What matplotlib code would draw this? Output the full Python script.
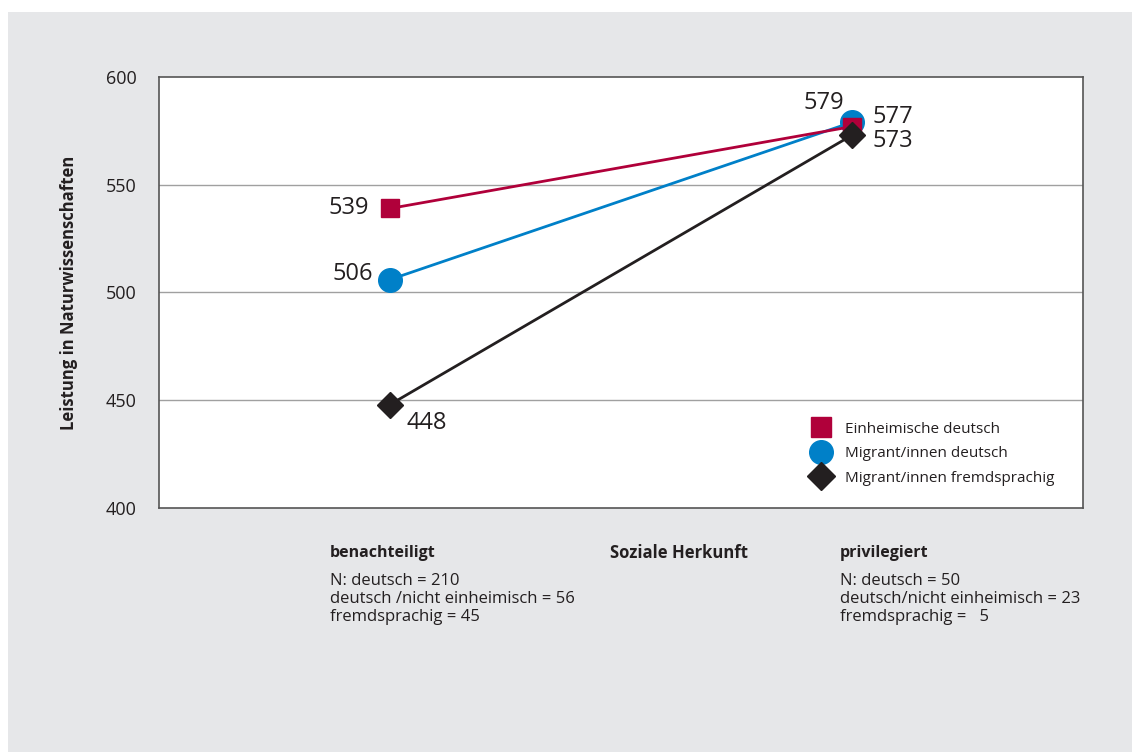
import matplotlib
matplotlib.use("Agg")
import matplotlib.pyplot as plt
from matplotlib.patches import Rectangle
from matplotlib.lines import Line2D

plt.rcParams['font.family'] = ['Open Sans', 'DejaVu Sans']

groups = ["benachteiligt", "privilegiert"]
series_names = ["Einheimische deutsch", "Migrant/innen deutsch", "Migrant/innen fremdsprachig"]
einheimisch = [539, 577]
migrant_deutsch = [506, 579]
migrant_fremd = [448, 573]
yticks = [400, 450, 500, 550, 600]
n_left = ["N: deutsch = 210", "deutsch /nicht einheimisch = 56", "fremdsprachig = 45"]
n_right = ["N: deutsch = 50", "deutsch/nicht einheimisch = 23", "fremdsprachig =   5"]

RED = "#b0003a"
BLUE = "#0080c8"
BLACK = "#231f20"
TXT = "#231f20"
BG = "#e6e7e9"

W, H = 1132, 752
fig = plt.figure(figsize=(W / 100, H / 100), dpi=100)
fig.patch.set_facecolor("white")
fig.add_artist(Rectangle((8 / W, 0), 1 - 8 / W, 1 - 12 / H, transform=fig.transFigure,
                         facecolor=BG, edgecolor="none", zorder=0))

ax = fig.add_axes([159 / W, 1 - 508 / H, (1083 - 159) / W, (508 - 77) / H])
ax.set_facecolor("white")
ax.set_xlim(0, 4)
ax.set_ylim(400, 600)
xs = [1, 3]

for y in [450, 500, 550]:
    ax.axhline(y, color="#a0a0a0", lw=1.0, zorder=1)

ax.plot(xs, einheimisch, color=RED, lw=2.0, marker="s", ms=13, zorder=3)
ax.plot(xs, migrant_deutsch, color=BLUE, lw=2.0, marker="o", ms=17, zorder=2)
ax.plot(xs, migrant_fremd, color=BLACK, lw=2.0, marker="D", ms=13, zorder=4)

lab = dict(fontsize=17, color=TXT)
ax.annotate(str(einheimisch[0]), (xs[0], einheimisch[0]), xytext=(-15, 0), textcoords="offset points", ha="right", va="center", **lab)
ax.annotate(str(migrant_deutsch[0]), (xs[0], migrant_deutsch[0]), xytext=(-12, 4), textcoords="offset points", ha="right", va="center", **lab)
ax.annotate(str(migrant_fremd[0]), (xs[0], migrant_fremd[0]), xytext=(12, -13), textcoords="offset points", ha="left", va="center", **lab)
ax.annotate(str(migrant_deutsch[1]), (xs[1], migrant_deutsch[1]), xytext=(-6, 14), textcoords="offset points", ha="right", va="center", **lab)
ax.annotate(str(einheimisch[1]), (xs[1], einheimisch[1]), xytext=(15, 7), textcoords="offset points", ha="left", va="center", **lab)
ax.annotate(str(migrant_fremd[1]), (xs[1], migrant_fremd[1]), xytext=(15, -4), textcoords="offset points", ha="left", va="center", **lab)

ax.set_yticks(yticks)
ax.set_yticklabels([str(t) for t in yticks], fontsize=13, color=TXT)
ax.tick_params(axis="y", length=0, pad=16)
ax.set_xticks([])
for s in ax.spines.values():
    s.set_color("#555555")
    s.set_linewidth(1.2)

ax.set_ylabel("Leistung in Naturwissenschaften", fontsize=12, fontweight="bold", color=TXT, labelpad=20)

handles = [Line2D([], [], color=RED, marker="s", ls="none", ms=14),
           Line2D([], [], color=BLUE, marker="o", ls="none", ms=17),
           Line2D([], [], color=BLACK, marker="D", ls="none", ms=14)]
leg = ax.legend(handles, series_names, loc="lower right", bbox_to_anchor=(0.984, 0.02), frameon=False,
                fontsize=11, labelspacing=0.62, handletextpad=0.8, handlelength=1.5)
for t in leg.get_texts():
    t.set_color(TXT)

fy = lambda py: 1 - py / H
fig.text(330 / W, fy(553), groups[0], fontsize=11.5, fontweight="bold", color=TXT, va="center")
fig.text(610 / W, fy(553), "Soziale Herkunft", fontsize=12, fontweight="bold", color=TXT, va="center")
fig.text(840 / W, fy(553), groups[1], fontsize=11.5, fontweight="bold", color=TXT, va="center")
for i, (l, r) in enumerate(zip(n_left, n_right)):
    y = fy(581 + i * 18)
    fig.text(330 / W, y, l, fontsize=12, color=TXT, va="center")
    fig.text(840 / W, y, r, fontsize=12, color=TXT, va="center")

fig.savefig("out.png", dpi=100, facecolor=fig.get_facecolor())
